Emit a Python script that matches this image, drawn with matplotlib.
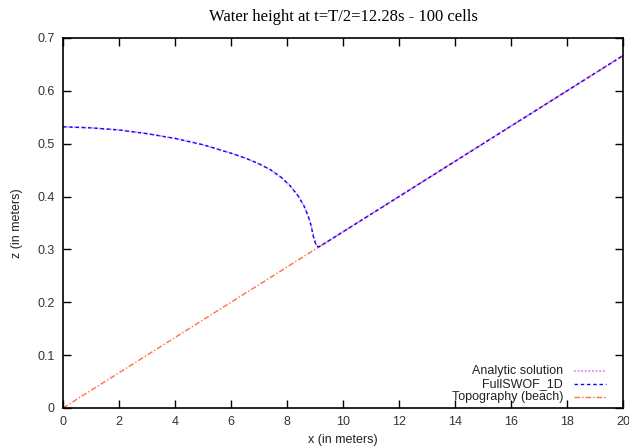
import matplotlib
matplotlib.use('Agg')
import matplotlib.pyplot as plt
import numpy as np

plt.rcParams['font.family'] = 'Liberation Sans'

# beach topography (straight slope)
x_topo = [0.0, 20.0]
z_topo = [0.0, 0.6667]

# water surface
x_water = [0.0, 1.0, 2.0, 3.0, 4.0, 5.0, 6.0, 6.5, 7.0, 7.4, 7.8, 8.1, 8.4,
           8.6, 8.75, 8.85, 8.95, 9.05, 9.15, 20.0]
z_analytic = [0.532, 0.530, 0.526, 0.519, 0.510, 0.498, 0.482, 0.473, 0.462,
              0.451, 0.436, 0.421, 0.401, 0.383, 0.364, 0.347, 0.326, 0.308,
              0.305, 0.6667]
z_fullswof = [0.532, 0.530, 0.526, 0.519, 0.510, 0.498, 0.482, 0.473, 0.462,
              0.451, 0.436, 0.421, 0.401, 0.383, 0.364, 0.347, 0.322, 0.306,
              0.305, 0.6667]

labels = ['Analytic solution', 'FullSWOF_1D', 'Topography (beach)']
colors = ['#f080ff', '#0a0aff', '#ff7040']
styles = [(0, (1, 1)), (0, (2.5, 2)), (0, (4, 1.5, 1, 1.5))]

fig = plt.figure(figsize=(6.29, 4.48), dpi=100)
ax = fig.add_axes([0.1002, 0.0893, 0.8903, 0.8259])

ax.plot(x_water, z_analytic, color=colors[0], linestyle=styles[0],
        linewidth=1.3)
ax.plot(x_water, z_fullswof, color=colors[1], linestyle=styles[1],
        linewidth=1.0)
ax.plot(x_topo, z_topo, color=colors[2], linestyle=styles[2],
        linewidth=1.0, zorder=1)

ax.set_xlim(0, 20)
ax.set_ylim(0, 0.7)
ax.set_xticks(np.arange(0, 21, 2))
ax.set_yticks(np.arange(0, 0.71, 0.1))
ax.set_yticklabels(['0', '0.1', '0.2', '0.3', '0.4', '0.5', '0.6', '0.7'])
ax.tick_params(direction='in', length=6, width=1, top=True, right=True,
               labelsize=9, pad=6, labelcolor='#333333')
for s in ax.spines.values():
    s.set_linewidth(1.2)

ax.set_xlabel('x (in meters)', fontsize=9, labelpad=4, color='#222222')
ax.set_ylabel('z (in meters)', fontsize=9, labelpad=10, color='#222222')
ax.set_title('Water height at t=T/2=12.28s - 100 cells',
             fontname='Liberation Serif', fontsize=12, pad=12)

# gnuplot-style key: right-aligned text, sample to the right
rows = [0.10, 0.0635, 0.0297]
for lab, c, ls, yy in zip(labels, colors, styles, rows):
    ax.text(0.893, yy, lab, transform=ax.transAxes, ha='right', va='center',
            fontsize=9, color='#222222')
    ax.plot([0.9125, 0.9696], [yy, yy], transform=ax.transAxes, color=c,
            linestyle=ls, linewidth=1.3 if c == colors[0] else 1.0,
            clip_on=False)

fig.savefig('out.png', dpi=100)
